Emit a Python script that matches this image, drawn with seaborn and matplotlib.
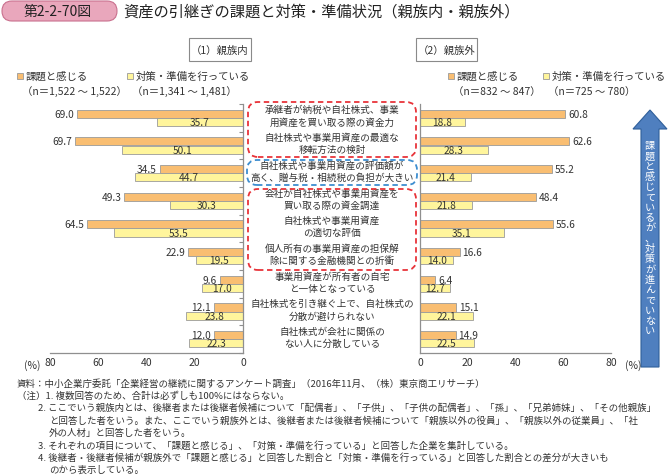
import matplotlib as mpl

mpl.use("Agg")
import matplotlib.pyplot as plt
import matplotlib.transforms as mtransforms
from matplotlib.patches import FancyBboxPatch, Polygon, Rectangle
import seaborn as sns
import pandas as pd
import numpy as np

sns.set_style("white")
plt.rcParams["font.family"] = ["Noto Sans CJK JP", "DejaVu Sans"]

# data
items = [
    "承継者が納税や自社株式、事業\n用資産を買い取る際の資金力",
    "自社株式や事業用資産の最適な\n移転方法の検討",
    "自社株式や事業用資産の評価額が\n高く、贈与税・相続税の負担が大きい",
    "会社が自社株式や事業用資産を\n買い取る際の資金調達",
    "自社株式や事業用資産\nの適切な評価",
    "個人所有の事業用資産の担保解\n除に関する金融機関との折衝",
    "事業用資産が所有者の自宅\nと一体となっている",
    "自社株式を引き継ぐ上で、自社株式の\n分散が避けられない",
    "自社株式が会社に関係の\nない人に分散している",
]
series = ["課題と感じる", "対策・準備を行っている"]
inner_issue = [69.0, 69.7, 34.5, 49.3, 64.5, 22.9, 9.6, 12.1, 12.0]
inner_action = [35.7, 50.1, 44.7, 30.3, 53.5, 19.5, 17.0, 23.8, 22.3]
outer_issue = [60.8, 62.6, 55.2, 48.4, 55.6, 16.6, 6.4, 15.1, 14.9]
outer_action = [18.8, 28.3, 21.4, 21.8, 35.1, 14.0, 12.7, 22.1, 22.5]
inner_n = ["（n＝1,522 ～ 1,522）", "（n＝1,341 ～ 1,481）"]
outer_n = ["（n＝832 ～ 847）", "（n＝725 ～ 780）"]
xticks = [0, 20, 40, 60, 80]

orange = "#F9BE72"
yellow = "#FFF59C"
grey = "#8f8f8f"
txt = "#333333"


def long_df(issue, action):
    return pd.DataFrame({
        "item": items * 2,
        "value": issue + action,
        "series": [series[0]] * len(items) + [series[1]] * len(items),
    })


W, H = 670, 477
fig = plt.figure(figsize=(W / 100, H / 100), dpi=100)
inch = fig.dpi_scale_trans


def fx(px):
    return px / W


def fy(py):
    return 1 - py / H


axL = fig.add_axes([fx(50), fy(354), 193 / W, 249 / H])
axR = fig.add_axes([fx(420), fy(354), 191 / W, 249 / H])

for ax, issue, action, side in [(axL, inner_issue, inner_action, -1),
                                (axR, outer_issue, outer_action, 1)]:
    sns.barplot(data=long_df(issue, action), y="item", x="value", hue="series",
                order=items, hue_order=series, orient="h", width=0.58, saturation=1,
                palette=[orange, yellow], edgecolor="#9a9a9a", linewidth=0.6,
                legend=False, ax=ax)
    for bar in ax.containers[0]:
        w = bar.get_width()
        ax.annotate(f"{w:.1f}", (w, bar.get_y() + bar.get_height() / 2),
                    xytext=(side * 2, 0), textcoords="offset points",
                    ha="left" if side > 0 else "right", va="center",
                    fontsize=7.3, color=txt)
    ax.bar_label(ax.containers[1], fmt="%.1f", label_type="center", fontsize=7.3, color=txt)
    ax.set_xlim(0, 80)
    ax.set_ylim(8.5, -0.5)
    ax.set_xticks(xticks)
    ax.set_yticks(np.arange(-0.5, 9, 1))
    ax.set_yticklabels([])
    ax.set(xlabel="", ylabel="")
    ax.tick_params(axis="x", direction="in", length=3, width=0.8, color=grey,
                   labelsize=7.5, labelcolor=txt, pad=3)
    for s in ax.spines.values():
        s.set_color(grey)
        s.set_linewidth(0.9)
    ax.spines["top"].set_visible(False)

axL.set_xlim(80, 0)
axL.spines["left"].set_visible(False)
axL.yaxis.tick_right()
axL.tick_params(axis="y", direction="in", length=3, width=0.8, color=grey)
axR.spines["right"].set_visible(False)
axR.tick_params(axis="y", direction="out", length=3, width=0.8, color=grey)

fig.text(fx(32), fy(366), "(%)", fontsize=7.5, color=txt, ha="center", va="center")
fig.text(fx(633), fy(366), "(%)", fontsize=7.5, color=txt, ha="center", va="center")

# item labels in the middle, one line at a time (12.5 px apart)
tr = mtransforms.blended_transform_factory(fig.transFigure, axL.transData)
for i, lab in enumerate(items):
    lines = lab.split("\n")
    for j, line in enumerate(lines):
        off = -((j - (len(lines) - 1) / 2) * 12.5 - 2) * 0.72
        axL.annotate(line, (fx(332), i), xycoords=tr, xytext=(0, off),
                     textcoords="offset points", ha="center", va="center",
                     fontsize=6.9, color=txt, annotation_clip=False)

# dashed boxes


def box(x0, y0, x1, y1, color):
    p = FancyBboxPatch((x0 / 100, (H - y1) / 100), (x1 - x0) / 100, (y1 - y0) / 100,
                       boxstyle="round,pad=0,rounding_size=0.1", transform=inch,
                       fill=False, edgecolor=color, linewidth=1.3, linestyle=(0, (3, 2)))
    fig.patches.append(p)


box(248, 103, 416, 158, "#E8343A")
box(247, 161, 417, 186, "#3E8ED0")
box(248, 190, 416, 271, "#E8343A")

# header
hdr = FancyBboxPatch((2 / 100, (H - 22) / 100), 115 / 100, 20 / 100,
                     boxstyle="round,pad=0,rounding_size=0.1", transform=inch,
                     facecolor="#E9A7BC", edgecolor="#C9708E", linewidth=0.8)
fig.patches.append(hdr)
fig.text(fx(58), fy(12), "第2-2-70図", fontsize=10, color="#222222", ha="center", va="center")
fig.text(fx(123), fy(12), "資産の引継ぎの課題と対策・準備状況（親族内・親族外）",
         fontsize=11, color="#222222", ha="left", va="center")

# panel titles
for x0, x1, lab in [(189, 251, "（1）親族内"), (416, 477, "（2）親族外")]:
    fig.patches.append(Rectangle((x0 / 100, (H - 62) / 100), (x1 - x0) / 100, 23 / 100,
                                 transform=inch, facecolor="white", edgecolor="#8a8a8a",
                                 linewidth=0.8))
    fig.text(fx((x0 + x1) / 2), fy(50.5), lab, fontsize=7.5, color=txt, ha="center", va="center")

# legends
for xs, ns in [((20, 130), inner_n), ((451, 546), outer_n)]:
    for x, lab, n, c in zip(xs, series, ns, [orange, yellow]):
        fig.patches.append(Rectangle(((x - 3) / 100, (H - 80) / 100), 6 / 100, 6 / 100,
                                     transform=inch, facecolor=c, edgecolor="#999999",
                                     linewidth=0.6))
        fig.text(fx(x + 6), fy(77), lab, fontsize=7.5, color=txt, ha="left", va="center")
        fig.text(fx(x + 2), fy(92), n, fontsize=7.5, color=txt, ha="left", va="center")

# arrow on the right
pts = [(641, 368), (641, 130), (633, 130), (650, 111), (667, 130), (659, 130), (659, 368)]
fig.patches.append(Polygon([(x / 100, (H - y) / 100) for x, y in pts], closed=True,
                           transform=inch, facecolor="#4F7FBF", edgecolor="#2F5F9A",
                           linewidth=0.8))
arrow_text = "課題と感じているが、対策が進んでいない"
for k, ch in enumerate(arrow_text):
    fig.text(fx(650), fy(146 + k * 10.3), ch, fontsize=7.3, color="white",
             ha="center", va="center")

# notes
notes = [
    (17, "資料：中小企業庁委託「企業経営の継続に関するアンケート調査」（2016年11月、（株）東京商工リサーチ）"),
    (17, "（注）1. 複数回答のため、合計は必ずしも100%にはならない。"),
    (38, "2. ここでいう親族内とは、後継者または後継者候補について「配偶者」、「子供」、「子供の配偶者」、「孫」、「兄弟姉妹」、「その他親族」"),
    (49, "と回答した者をいう。また、ここでいう親族外とは、後継者または後継者候補について「親族以外の役員」、「親族以外の従業員」、「社"),
    (49, "外の人材」と回答した者をいう。"),
    (38, "3. それぞれの項目について、「課題と感じる」、「対策・準備を行っている」と回答した企業を集計している。"),
    (38, "4. 後継者・後継者候補が親族外で「課題と感じる」と回答した割合と「対策・準備を行っている」と回答した割合との差分が大きいも"),
    (49, "のから表示している。"),
]
for k, (x, line) in enumerate(notes):
    fig.text(fx(x), fy(384 + k * 12.3), line, fontsize=6.8, color=txt, ha="left", va="center")

fig.savefig("out.png", dpi=100)
